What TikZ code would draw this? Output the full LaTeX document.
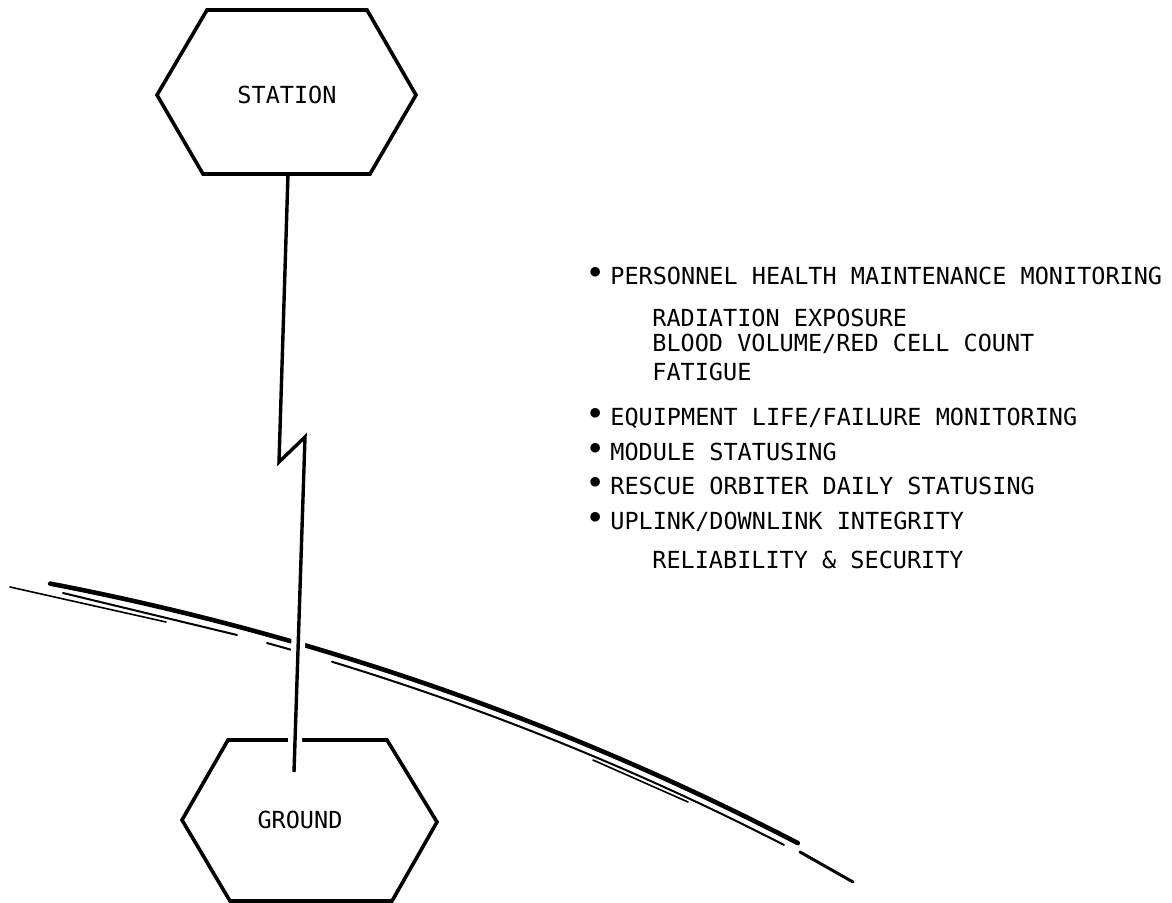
\documentclass[tikz,border=0pt]{standalone}
\usepackage{fontspec}
\newfontfamily\printfont{DejaVu Sans Mono}
\newcommand{\dotmark}{\llap{\scalebox{1.4}{•}\kern0.22em}}

\begin{document}
\begin{tikzpicture}[x=0.5pt,y=-0.5pt,
    every node/.style={font=\printfont\fontsize{11.75pt}{14pt}\selectfont,inner sep=0pt},
    hexa/.style={line width=1.8pt},
    link/.style={line width=1.7pt,preaction={draw=white,line width=7pt}},
    rim/.style={line width=2.3pt,line cap=round},
    haze/.style={line width=0.8pt,line cap=round}]
    \useasboundingbox (0,0) rectangle (1172,903);

    % earth horizon
    \coordinate (earth) at (-470,3290);
    \draw[rim] (earth) ++(-79.12:2756) arc[start angle=-79.12,end angle=-62.61,radius=2756];
    \draw[haze,line width=1pt] (earth) ++(-73.03:2748) arc[start angle=-73.03,end angle=-62.85,radius=2748];
    \draw[haze] (10,587) -- (166,622);
    \draw[haze,line width=1pt] (63,593) -- (237,635);
    \draw[haze,line width=1pt] (267,643) -- (292,650);
    \draw[haze] (593,760) -- (688,802);
    \draw[haze,line width=1.5pt] (800,852) -- (853,882);

    % ground
    \draw[hexa] (228,740) -- (387,740) -- (437,822) -- (392,901) -- (230,901) -- (182,820) -- cycle;
    \node (ground) at (300,820) {GROUND};

    % link
    \coordinate (up) at (288,174);
    \coordinate (zig) at (279,462);
    \coordinate (zag) at (305,437);
    \coordinate (down) at (294,772);
    \draw[link] (up) -- (zig) -- (zag) -- (down);

    % station
    \draw[hexa] (207,10) -- (367,10) -- (416,95) -- (370,174) -- (203,174) -- (157,95) -- cycle;
    \node (station) at (287,95) {STATION};

    % list
    \node[anchor=base west] (health) at (610,285) {\dotmark PERSONNEL HEALTH MAINTENANCE MONITORING};
    \node[anchor=base west] (radiation) at (652,327) {RADIATION EXPOSURE};
    \node[anchor=base west] (blood) at (652,352) {BLOOD VOLUME/RED CELL COUNT};
    \node[anchor=base west] (fatigue) at (652,381) {FATIGUE};
    \node[anchor=base west] (equipment) at (610,425) {\dotmark EQUIPMENT LIFE/FAILURE MONITORING};
    \node[anchor=base west] (module) at (610,460) {\dotmark MODULE STATUSING};
    \node[anchor=base west] (rescue) at (610,494) {\dotmark RESCUE ORBITER DAILY STATUSING};
    \node[anchor=base west] (uplink) at (610,529) {\dotmark UPLINK/DOWNLINK INTEGRITY};
    \node[anchor=base west] (reliability) at (652,568) {RELIABILITY \& SECURITY};
\end{tikzpicture}
\end{document}
